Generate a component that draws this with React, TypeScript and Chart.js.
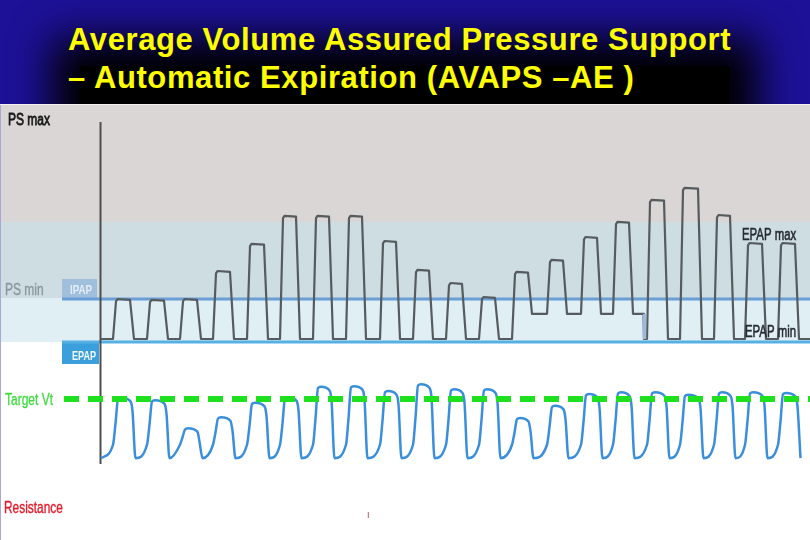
import React, { useEffect, useRef } from 'react';
import { Chart, registerables } from 'chart.js';

Chart.register(...registerables);

// ---- data (time in s, pressure in cmH2O, volume in mL) ----
const breathOnsets = [11.3, 14.7, 18.0, 21.3, 24.7, 28.0, 31.3, 34.6, 38.0, 41.3, 44.6, 47.9, 51.2, 54.7, 58.1, 61.3, 64.7, 68.0, 71.4, 74.5, 77.8];
const inspTimes = [2.1, 2.1, 2.1, 2.1, 2.1, 2.0, 2.0, 2.0, 2.0, 2.0, 2.0, 2.0, 2.0, 2.0, 2.0, 2.0, 2.1, 2.2, 2.0, 2.1, 2.1];
const ipapTops = [15, 14.8, 15, 22, 28.8, 35.8, 35.8, 35.8, 29.5, 22.3, 19, 15.5, 21.8, 24.8, 30.5, 34.3, 39.8, 42.8, 36, 29, 29];
const epapAfter = [5, 5, 5, 5, 5, 5, 5, 5, 5, 5, 5, 5, 11.3, 11.3, 11.3, 11.3, 5, 5, 5, 5, 5];
const vtPeaks = [510, 490, 260, 350, 470, 515, 600, 605, 565, 620, 580, 580, 345, 445, 540, 555, 555, 535, 555, 555, 550];

const traceStart = 10.1;
const traceEnd = 81;
const epapMinLevel = 5;
const epapStepTime = 64.35;
const ipapLineLevel = 15;
const epapLineLevel = 4.25;
const psMaxBoundary = 34.25;
const ipapBandBottom = 15.25;
const targetVt = 500;
const vtTrough = 15;
const vtPreRise = 125;
const cursorTime = 10.05;
const cursorTop = 59.25;
const cursorBottom = -26.25;
const refLineStart = 6.2;
const targetLineStart = 6.4;

function buildPressure() {
  const pts: { x: number; y: number }[] = [{ x: traceStart, y: epapMinLevel }];
  let base = epapMinLevel;
  breathOnsets.forEach((o, i) => {
    if (o > epapStepTime && base !== epapMinLevel) {
      pts.push({ x: epapStepTime, y: base }, { x: epapStepTime + 0.05, y: epapMinLevel });
      base = epapMinLevel;
    }
    const d = inspTimes[i];
    const p = ipapTops[i];
    const b1 = epapAfter[i];
    pts.push(
      { x: o, y: base },
      { x: o + 0.3, y: p - 0.6 },
      { x: o + 0.45, y: p },
      { x: o + d - 0.4, y: p - 0.2 },
      { x: o + d, y: b1 }
    );
    base = b1;
  });
  pts.push({ x: traceEnd, y: base });
  return pts;
}

function buildVolume() {
  const pts: { x: number; y: number }[] = [{ x: traceStart, y: vtTrough }];
  breathOnsets.forEach((o, i) => {
    const d = inspTimes[i];
    const pk = vtPeaks[i];
    pts.push(
      { x: o, y: vtPreRise },
      { x: o + 0.25, y: vtPreRise + 0.45 * (pk - vtPreRise) },
      { x: o + 0.5, y: pk - 10 },
      { x: o + 0.8, y: pk },
      { x: o + d - 0.35, y: pk - 30 },
      { x: o + d - 0.15, y: pk - 110 },
      { x: o + d + 0.15, y: vtTrough }
    );
  });
  return pts;
}

const drawText = (ctx: any, s: string, px: number, py: number, font: string, color: string, sx: number, stroke = 0) => {
  ctx.save();
  ctx.translate(px, py);
  ctx.scale(sx, 1);
  ctx.font = font;
  ctx.fillStyle = color;
  ctx.textBaseline = 'alphabetic';
  ctx.fillText(s, 0, 0);
  if (stroke > 0) {
    ctx.strokeStyle = color;
    ctx.lineWidth = stroke;
    ctx.strokeText(s, 0, 0);
  }
  ctx.restore();
};

const bgPlugin = {
  id: 'bands',
  beforeDatasetsDraw(chart: any) {
    const { ctx, chartArea: a, scales } = chart;
    const yP = scales.yP;
    const x = scales.x;
    const y1 = yP.getPixelForValue(psMaxBoundary);
    const y2 = yP.getPixelForValue(ipapBandBottom);
    const y3 = yP.getPixelForValue(epapLineLevel);
    ctx.save();
    ctx.fillStyle = '#d9d6d5';
    ctx.fillRect(a.left, a.top, a.width, y1 - a.top);
    ctx.fillStyle = '#cedde2';
    ctx.fillRect(a.left, y1, a.width, y2 - y1);
    ctx.fillStyle = '#dfeff4';
    ctx.fillRect(a.left, y2, a.width, y3 - y2);
    // IPAP / EPAP tags
    const xl = x.getPixelForValue(refLineStart);
    const yi = yP.getPixelForValue(ipapLineLevel);
    ctx.fillStyle = '#9fbfdc';
    ctx.fillRect(xl, yi - 20, x.getPixelForValue(9.7) - xl, 19);
    ctx.fillStyle = '#3b9fdb';
    ctx.fillRect(xl, y3 + 1, x.getPixelForValue(9.9) - xl, 21);
    drawText(ctx, 'IPAP', xl + 8, yi - 5, 'bold 13px "Liberation Sans", Arial', '#e4edf5', 0.75);
    drawText(ctx, 'EPAP', xl + 10, y3 + 18, 'bold 13px "Liberation Sans", Arial', '#f2f8fc', 0.7);
    ctx.restore();
  },
  afterDatasetsDraw(chart: any) {
    const { ctx } = chart;
    const off = 105;
    const f16 = '16px "Liberation Sans", Arial';
    const f17 = '17px "Liberation Sans", Arial';
    drawText(ctx, 'PS max', 8, 125 - off, f16, '#1a1a1a', 0.75, 0.8);
    drawText(ctx, 'PS min', 5, 295 - off, f16, '#8a99a1', 0.75, 0.4);
    drawText(ctx, 'Target Vt', 5, 405 - off, f16, '#3fdc3f', 0.75, 0.3);
    drawText(ctx, 'Resistance', 4, 513 - off, f17, '#e31d2d', 0.7, 0.4);
    drawText(ctx, 'EPAP max', 742, 240 - off, f17, '#262b30', 0.67, 0.6);
    drawText(ctx, 'EPAP min', 745, 337 - off, f17, '#262b30', 0.67, 0.6);
    drawText(ctx, 'I', 367, 518 - off, '9px "Liberation Sans", Arial', '#b5443a', 1);
  },
};

export default function App() {
  const ref = useRef<HTMLCanvasElement>(null);
  useEffect(() => {
    const pressure = buildPressure();
    const volume = buildVolume();
    const chart = new Chart(ref.current as HTMLCanvasElement, {
      type: 'line',
      data: {
        datasets: [
          {
            label: 'Target Vt',
            data: [{ x: targetLineStart, y: targetVt }, { x: traceEnd, y: targetVt }],
            yAxisID: 'yV',
            borderColor: '#1fe01f',
            borderWidth: 6,
            borderDash: [15, 9],
            order: 0,
          },
          {
            label: 'Volume',
            data: volume,
            yAxisID: 'yV',
            borderColor: '#3a8fdc',
            borderWidth: 2.5,
            cubicInterpolationMode: 'monotone',
            order: 1,
          },
          {
            label: 'EPAP step',
            data: [{ x: epapStepTime + 0.1, y: epapMinLevel }, { x: epapStepTime + 0.1, y: 11.3 }],
            yAxisID: 'yP',
            borderColor: '#9dbad9',
            borderWidth: 3.5,
            order: 2,
          },
          {
            label: 'Pressure',
            data: pressure,
            yAxisID: 'yP',
            borderColor: '#565b5f',
            borderWidth: 2.2,
            borderJoinStyle: 'round',
            order: 3,
          },
          {
            label: 'Cursor',
            data: [{ x: cursorTime, y: cursorTop }, { x: cursorTime, y: cursorBottom }],
            yAxisID: 'yP',
            borderColor: '#4e4e4e',
            borderWidth: 2,
            order: 4,
          },
          {
            label: 'EPAP',
            data: [{ x: refLineStart, y: epapLineLevel }, { x: traceEnd, y: epapLineLevel }],
            yAxisID: 'yP',
            borderColor: '#57b0e3',
            borderWidth: 3,
            order: 5,
          },
          {
            label: 'IPAP',
            data: [{ x: refLineStart, y: ipapLineLevel }, { x: traceEnd, y: ipapLineLevel }],
            yAxisID: 'yP',
            borderColor: '#6a9ed7',
            borderWidth: 3,
            order: 6,
          },
        ],
      },
      options: {
        animation: false,
        responsive: false,
        maintainAspectRatio: false,
        layout: { padding: 0 },
        elements: { point: { radius: 0 }, line: { tension: 0 } },
        plugins: { legend: { display: false }, tooltip: { enabled: false }, title: { display: false } },
        scales: {
          x: { type: 'linear', min: 0, max: 81, display: false },
          yP: { type: 'linear', min: -45.25, max: 63.5, display: false },
          yV: { type: 'linear', min: -655.7, max: 2909.8, display: false },
        },
      } as any,
      plugins: [bgPlugin],
    });
    return () => chart.destroy();
  }, []);

  return (
    <div style={{ position: 'fixed', left: 0, top: 0, width: 810, height: 540, overflow: 'hidden', background: '#1d1197' }}>
      <div style={{ position: 'absolute', left: 80, top: 66, width: 650, height: 60, background: '#000', boxShadow: '0 0 40px 28px #000' }} />
      <div
        style={{
          position: 'absolute',
          left: 68,
          top: 21,
          color: '#ffff00',
          font: 'bold 31px "Liberation Sans", Arial, sans-serif',
          lineHeight: '38px',
          letterSpacing: '0.6px',
          whiteSpace: 'pre',
        }}
      >
        {'Average Volume Assured Pressure Support'}
        <br />
        {'– Automatic Expiration (AVAPS –AE )'}
      </div>
      <div style={{ position: 'absolute', left: 0, top: 104, width: 810, height: 436, background: '#ffffff', borderTop: '1px solid #f2f2f2', boxSizing: 'border-box' }}>
        <canvas ref={ref} width={810} height={435} style={{ display: 'block', width: 810, height: 435 }} />
        <div style={{ position: 'absolute', left: 0, top: 0, width: 1, height: 436, background: '#a8a8d8' }} />
      </div>
    </div>
  );
}
